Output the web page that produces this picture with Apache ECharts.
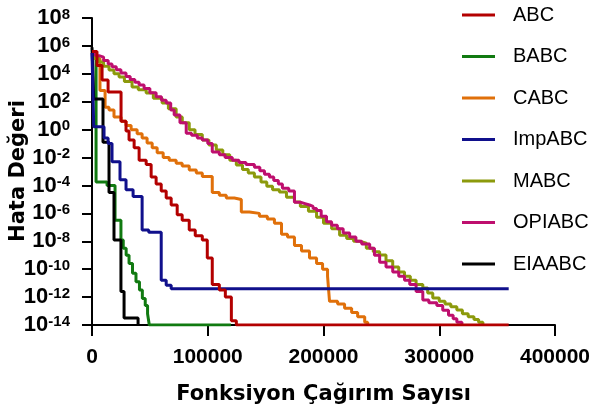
<!DOCTYPE html>
<html>
<head>
<meta charset="utf-8">
<script src="https://cdn.jsdelivr.net/npm/echarts/dist/echarts.min.js"></script>
<style>
  html, body { margin: 0; padding: 0; background: #fff; }
  #chart { width: 595px; height: 410px; }
</style>
</head>
<body>
<div id="chart"></div>
<script>
// step points: [function evaluations where the new level starts, log10(error)]
const seriesNames = ['ABC', 'BABC', 'CABC', 'ImpABC', 'MABC', 'OPIABC', 'EIAABC']
const seriesColors = ['#B30000', '#117A11', '#E0700A', '#10108C', '#8C9A0C', '#BE0F6E', '#000000']

const abcSteps = [[0, 5.6], [4300, 4.6], [8700, 3.55], [13900, 2.7], [25100, 0.6], [29400, -0.1], [32000, -0.75],
  [36400, -1.3], [40700, -2.2], [46800, -2.5], [51100, -3.4], [55400, -3.9], [59800, -4.4], [64100, -4.9],
  [68400, -5.4], [73600, -6.1], [77900, -6.5], [84000, -7.2], [89200, -7.6], [95300, -7.9], [99600, -9.2],
  [103900, -11.1], [110000, -11.5], [115200, -12], [120400, -13.7], [124700, -14], [360000, -14]]

const babcSteps = [[0, 5.5], [3500, -3.75], [13000, -4.0], [19900, -6.5], [25000, -7.9], [27000, -8.5],
  [29500, -9], [32000, -9.6], [35000, -10.3], [38000, -10.9], [41000, -11.5], [43500, -12.1], [46000, -12.6],
  [48000, -13.2], [49500, -14], [120000, -14]]

const cabcSteps = [[0, 5.1], [6900, 2.8], [11300, 1.6], [14700, 1.4], [19000, 0.9], [25100, 0.6], [29400, 0.3],
  [33800, 0], [39000, -0.3], [43300, -0.6], [47600, -0.95], [52000, -1.3], [56300, -1.65], [61500, -2],
  [66700, -2.2], [72700, -2.4], [77900, -2.6], [84000, -2.9], [90100, -3.1], [95300, -3.35], [103900, -4.5],
  [110000, -4.7], [116000, -4.9], [123000, -5.0], [129000, -5.9], [136000, -6.0], [144600, -6.2],
  [151500, -6.4], [157600, -6.7], [163700, -7.5], [168900, -7.7], [174900, -8.3], [181000, -8.7],
  [187900, -9.2], [194000, -9.6], [199200, -10.0], [203500, -10.5], [205200, -12.3], [212200, -12.5],
  [218200, -12.8], [224300, -13.1], [229500, -13.4], [235600, -13.8], [238200, -14]]

const impabcSteps = [[0, 5.5], [1500, 0.2], [10400, -0.6], [13900, -1], [17300, -2.3], [24200, -3.6],
  [29400, -4.3], [35500, -4.8], [43300, -7.2], [49000, -7.35], [59800, -10.8], [64100, -11.15],
  [68400, -11.4], [360000, -11.4]]

const mabcSteps = [[0, 5.3], [2000, 5.1], [6000, 4.85], [10000, 4.55], [14700, 4.27], [19000, 4.0],
  [23400, 3.77], [28000, 3.45], [34600, 3.05], [40000, 2.85], [46800, 2.62], [53000, 2.25], [60600, 1.91],
  [66000, 1.5], [72700, 0.9], [78000, 0.5], [84000, 0.0], [89000, -0.35], [95300, -0.75], [101000, -1.1],
  [107400, -1.46], [113000, -1.8], [119000, -2.2], [124700, -2.54], [130000, -2.85], [135000, -3.1],
  [140300, -3.4], [146000, -3.75], [151000, -4.05], [156000, -4.3], [161900, -4.47], [168000, -4.85],
  [174900, -5.19], [180000, -5.5], [187000, -5.85], [194000, -6.27], [200000, -6.7], [207000, -7.1],
  [213900, -7.56], [220000, -7.8], [226000, -8.0], [231200, -8.13], [237000, -8.5], [243000, -8.75],
  [248500, -8.99], [254000, -9.4], [259800, -9.85], [265000, -10.2], [270000, -10.5], [275000, -10.8],
  [280000, -11.1], [285800, -11.35], [290000, -11.7], [294400, -12.07], [300000, -12.3], [305000, -12.5],
  [310000, -12.7], [315200, -12.93], [320000, -13.2], [325000, -13.4], [330000, -13.6], [334000, -13.8],
  [337700, -14]]

const opiabcSteps = [[0, 5.5], [3000, 5.3], [6100, 5.2], [10000, 4.95], [14000, 4.7], [17300, 4.5],
  [21000, 4.3], [25000, 4.05], [29400, 3.8], [33000, 3.6], [37000, 3.4], [40700, 3.2], [45000, 2.95],
  [50000, 2.65], [55400, 2.35], [60000, 2.1], [64100, 1.9], [68000, 1.4], [71000, 1.05], [76000, 0.5],
  [81400, -0.25], [86000, -0.4], [91000, -0.6], [95300, -0.75], [100000, -1.0], [103900, -1.6],
  [110000, -1.8], [115000, -2.0], [121200, -2.2], [127000, -2.35], [133000, -2.5], [140300, -2.7],
  [145000, -2.95], [149000, -3.2], [153300, -3.4], [157000, -3.65], [161000, -3.9], [164500, -4.2],
  [170000, -4.4], [174900, -5.2], [180000, -5.3], [184000, -5.4], [187900, -5.5], [191000, -5.65],
  [194000, -5.8], [198000, -6.2], [202600, -6.6], [207000, -6.85], [212000, -7.1], [217000, -7.4],
  [222600, -7.7], [228000, -8.0], [233000, -8.2], [239900, -8.5], [244000, -9.0], [248500, -9.5],
  [254000, -9.85], [259800, -10.2], [265000, -10.5], [270000, -10.8], [274500, -11.1], [280000, -11.6],
  [285800, -12.2], [291000, -12.4], [297900, -12.6], [303000, -12.95], [308000, -13.3], [312000, -13.55],
  [315200, -13.8], [319600, -14]]

const eiaabcSteps = [[0, 5.9], [1500, 2.2], [9500, -0.9], [14700, -4.5], [19000, -7.9], [25000, -11.6],
  [27700, -13.5], [39800, -14]]

const allSteps = [abcSteps, babcSteps, cabcSteps, impabcSteps, mabcSteps, opiabcSteps, eiaabcSteps]
const seriesZ = [6, 3, 3, 5, 3, 3, 3]

const xTicks = [0, 100000, 200000, 300000, 400000]
const yExponents = [-14, 8]

function stepLine(name, pts, color, z) {
  const data = []
  pts.forEach((p, i) => {
    if (i > 0) data.push([p[0], pts[i - 1][1]])
    data.push(p)
  })
  return {
    name: name,
    type: 'line',
    data: data,
    symbol: 'none',
    z: z,
    lineStyle: { width: 3, color: color },
    itemStyle: { color: color }
  }
}

const chart = echarts.init(document.getElementById('chart'))
chart.setOption({
  animation: false,
  backgroundColor: '#fff',
  grid: { left: 92, right: 40, top: 18, bottom: 85, containLabel: false, outerBoundsMode: 'none' },
  graphic: [{
    type: 'text',
    x: 19,
    y: 171,
    rotation: Math.PI / 2,
    style: {
      text: 'Hata Değeri',
      font: 'bold 21px "DejaVu Sans"',
      fill: '#000',
      align: 'center',
      verticalAlign: 'middle'
    }
  }],
  legend: {
    orient: 'vertical',
    left: 462,
    top: 5,
    padding: 0,
    icon: 'rect',
    itemWidth: 33,
    itemHeight: 3,
    itemGap: 21.5,
    data: seriesNames,
    textStyle: {
      fontFamily: 'Liberation Sans',
      fontSize: 20,
      color: '#000',
      lineHeight: 20,
      padding: [0, 0, 0, 13]
    }
  },
  xAxis: {
    type: 'value',
    min: xTicks[0],
    max: xTicks[xTicks.length - 1],
    interval: 100000,
    name: 'Fonksiyon Çağırım Sayısı',
    nameLocation: 'middle',
    nameGap: 59,
    nameTextStyle: { fontFamily: 'DejaVu Sans', fontWeight: 'bold', fontSize: 21, color: '#000' },
    axisLine: { onZero: false, lineStyle: { color: '#000', width: 2 } },
    axisTick: { length: 11, lineStyle: { color: '#000', width: 2 } },
    axisLabel: {
      margin: 22,
      formatter: v => String(v),
      fontFamily: 'Liberation Sans',
      fontWeight: 'bold',
      fontSize: 21,
      color: '#000'
    },
    splitLine: { show: false }
  },
  yAxis: {
    type: 'value',
    min: yExponents[0],
    max: yExponents[1],
    interval: 2,
    axisLine: { show: true, onZero: false, lineStyle: { color: '#000', width: 2 } },
    axisTick: { show: true, length: 10, lineStyle: { color: '#000', width: 2 } },
    axisLabel: {
      margin: 14,
      formatter: v => '{b|10}{s|' + v + '}',
      rich: {
        b: { fontFamily: 'Liberation Sans', fontWeight: 'bold', fontSize: 22, color: '#000', lineHeight: 22 },
        s: {
          fontFamily: 'Liberation Sans', fontWeight: 'bold', fontSize: 15, color: '#000',
          verticalAlign: 'top', lineHeight: 22, padding: [0, 8, 0, 0]
        }
      }
    },
    splitLine: { show: false }
  },
  series: seriesNames.map((n, i) => stepLine(n, allSteps[i], seriesColors[i], seriesZ[i]))
})
</script>
</body>
</html>
